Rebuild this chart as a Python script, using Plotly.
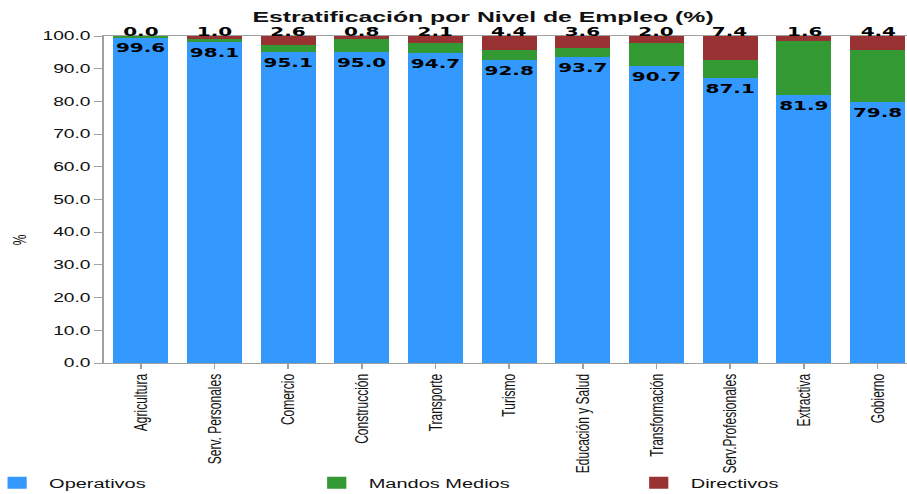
import plotly.graph_objects as go

# Employment level breakdown by economic sector (% of workers)
categories = [
    "Agricultura", "Serv. Personales", "Comercio", "Construcción", "Transporte",
    "Turismo", "Educación y Salud", "Transformación", "Serv.Profesionales",
    "Extractiva", "Gobierno",
]
operativos = [99.6, 98.1, 95.1, 95.0, 94.7, 92.8, 93.7, 90.7, 87.1, 81.9, 79.8]
mandos_medios = [0.4, 0.9, 2.3, 4.2, 3.2, 2.8, 2.7, 7.3, 5.5, 16.5, 15.8]
directivos = [0.0, 1.0, 2.6, 0.8, 2.1, 4.4, 3.6, 2.0, 7.4, 1.6, 4.4]
y_ticks = [0, 10, 20, 30, 40, 50, 60, 70, 80, 90, 100]

# The chart is laid out on a narrow canvas and widened horizontally on the page,
# which gives the broad lettering of the original report graphic.
BASE_W = 567
PAGE_W = 907
STRETCH = PAGE_W / BASE_W

BLUE = "#3399FF"
GREEN = "#339933"
RED = "#993333"
FRAME = "#A0A0A0"
SANS = "Liberation Sans, Arial, sans-serif"

label_font = dict(family="DejaVu Sans", size=12.5, color="black", weight="bold")

fig = go.Figure()
fig.add_trace(go.Bar(
    name="Operativos", x=categories, y=operativos,
    marker=dict(color=BLUE, line=dict(width=0)),
    text=[f"{v:.1f}" for v in operativos],
    textposition="inside", insidetextanchor="end", textangle=0,
    insidetextfont=label_font, constraintext="none",
    hoverinfo="x+y", legend="legend",
))
fig.add_trace(go.Bar(
    name="Mandos Medios", x=categories, y=mandos_medios,
    marker=dict(color=GREEN, line=dict(width=0)),
    hoverinfo="x+y", legend="legend2",
))
fig.add_trace(go.Bar(
    name="Directivos", x=categories, y=directivos,
    marker=dict(color=RED, line=dict(width=0)),
    cliponaxis=False,
    hoverinfo="x+y", legend="legend3",
))

# Directivos share written just above the top of each stacked column
for cat, op, mm, d in zip(categories, operativos, mandos_medios, directivos):
    fig.add_annotation(
        x=cat, y=op + mm + d, xref="x", yref="y",
        text=f"{d:.1f}", showarrow=False,
        yanchor="bottom", yshift=-5,
        font=label_font,
    )

# Y-axis unit, set a little below the middle of the axis
fig.add_annotation(
    text="%", xref="paper", yref="paper", x=-0.105, y=0.376,
    xanchor="center", yanchor="middle", textangle=-90, showarrow=False,
    font=dict(family=SANS, size=12, color="#111"),
)

# One legend box per series, spread along the bottom edge
legend_style = dict(
    orientation="h",
    xref="paper", xanchor="left",
    yref="container", y=1 - 483 / 494, yanchor="middle",
    font=dict(family=SANS, size=12.5, color="#111"),
    bgcolor="rgba(0,0,0,0)",
)

fig.update_layout(
    width=BASE_W, height=494,
    margin=dict(l=65, r=0, t=36, b=131, autoexpand=False),
    paper_bgcolor="white", plot_bgcolor="white",
    barmode="stack", bargap=0.253,
    font=dict(family=SANS, size=12, color="#111"),
    title=dict(
        text="Estratificación por Nivel de Empleo (%)",
        font=dict(family=SANS, size=15.5, color="#111", weight="bold"),
        xref="container", x=302 / BASE_W, xanchor="center",
        yref="container", y=1 - 16.5 / 494, yanchor="middle",
    ),
    legend=dict(legend_style, x=-0.148),
    legend2=dict(legend_style, x=0.250),
    legend3=dict(legend_style, x=0.651),
    xaxis=dict(
        range=[-0.5, 10.4], automargin=False,
        showline=True, linecolor=FRAME, linewidth=1, mirror=True,
        ticks="outside", ticklen=5, tickcolor=FRAME,
        tickangle=-90,
        tickfont=dict(family=SANS, size=12, color="#111"),
        showgrid=False,
    ),
    yaxis=dict(
        range=[0, 100], automargin=False,
        tickvals=y_ticks, tickformat=".1f",
        showline=True, linecolor=FRAME, linewidth=1, mirror=True,
        ticks="outside", ticklen=5, tickcolor=FRAME,
        tickfont=dict(family=SANS, size=12, color="#111"),
        showgrid=False, zeroline=False,
    ),
    showlegend=True,
)

post_js = (
    "document.body.style.margin='0';"
    "document.body.style.overflow='hidden';"
    "var gd=document.getElementById('{plot_id}');"
    "gd.style.transformOrigin='0 0';"
    "gd.style.transform='scaleX(" + f"{STRETCH:.5f}" + ")';"
)

fig.write_html("out.html", post_script=post_js)
